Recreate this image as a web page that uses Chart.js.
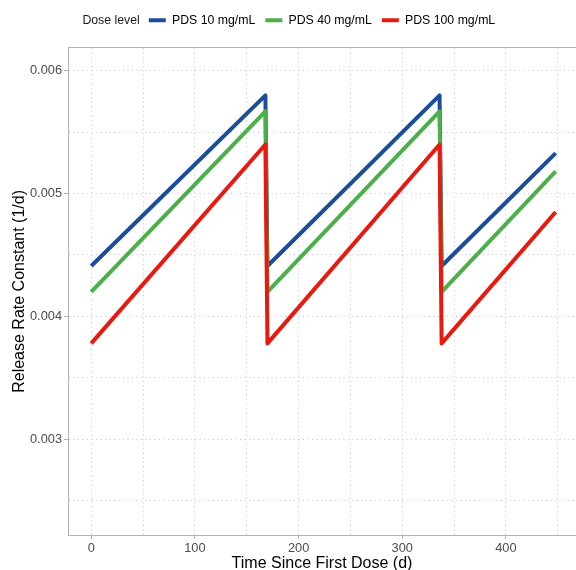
<!DOCTYPE html>
<html>
<head>
<meta charset="utf-8">
<script src="https://cdn.jsdelivr.net/npm/chart.js@4/dist/chart.umd.min.js"></script>
<style>
  html, body { margin: 0; padding: 0; background: #fff; }
  #wrap { width: 576px; height: 570px; }
</style>
</head>
<body>
<div id="wrap"><canvas id="chart" width="576" height="570"></canvas></div>
<script>
// release rate constant over three dosing intervals
const timeDays = [0, 168, 170, 336, 338, 448];
const pds10 = [0.00441, 0.00580, 0.00441, 0.00580, 0.00441, 0.00533];
const pds40 = [0.00420, 0.00567, 0.00420, 0.00567, 0.00420, 0.00518];
const pds100 = [0.00378, 0.00540, 0.00378, 0.00540, 0.00378, 0.00485];

const doseLabels = ['PDS 10 mg/mL', 'PDS 40 mg/mL', 'PDS 100 mg/mL'];
const doseColors = ['#1b4d9b', '#4cb04a', '#e8190f'];
const legendTitle = 'Dose level';

const xTicks = [0, 50, 100, 150, 200, 250, 300, 350, 400, 450];
const yTicks = [0.0025, 0.003, 0.0035, 0.004, 0.0045, 0.005, 0.0055, 0.006];
const xMajor = [0, 100, 200, 300, 400];
const yMajor = [0.003, 0.004, 0.005, 0.006];

const FONT = '"Liberation Sans", Arial, Helvetica, sans-serif';
const GRID = '#c6c6c6';
const FRAME = '#b3b3b3';

function toPoints(values) {
  return timeDays.map((t, i) => ({ x: t, y: values[i] }));
}

function isMajor(list, v) {
  return list.some(m => Math.abs(m - v) < 1e-9);
}

// ggplot-style legend title sits inline, left of the keys
const legendTitlePlugin = {
  id: 'legendTitle',
  afterDraw(chart) {
    const boxes = chart.legend && chart.legend.legendHitBoxes;
    if (!boxes || !boxes.length) return;
    const first = boxes[0];
    const ctx = chart.ctx;
    ctx.save();
    ctx.font = '12.3px ' + FONT;
    ctx.fillStyle = '#1a1a1a';
    ctx.textAlign = 'right';
    ctx.textBaseline = 'middle';
    ctx.fillText(legendTitle, first.left - 9, first.top + first.height / 2);
    ctx.restore();
  }
};

const series = [pds10, pds40, pds100];

new Chart(document.getElementById('chart'), {
  type: 'line',
  data: {
    datasets: series.map((vals, i) => ({
      label: doseLabels[i],
      data: toPoints(vals),
      borderColor: doseColors[i],
      backgroundColor: doseColors[i],
      borderWidth: 4,
      borderJoinStyle: 'round',
      pointRadius: 0,
      tension: 0,
      order: series.length - i  // red ends up on top
    }))
  },
  options: {
    responsive: false,
    animation: false,
    events: [],
    layout: { padding: { top: 4, left: 0, right: 0, bottom: 0 } },
    plugins: {
      tooltip: { enabled: false },
      legend: {
        position: 'top',
        fullSize: false,
        labels: {
          boxWidth: 17,
          boxHeight: 4,
          padding: 10,
          color: '#1a1a1a',
          font: { family: FONT, size: 12.3 },
          sort: (a, b) => a.datasetIndex - b.datasetIndex,
          generateLabels(chart) {
            return chart.data.datasets.map((ds, i) => ({
              text: ds.label,
              fillStyle: ds.borderColor,
              strokeStyle: ds.borderColor,
              lineWidth: 0,
              datasetIndex: i
            }));
          }
        }
      }
    },
    scales: {
      x: {
        type: 'linear',
        min: -22.4,
        max: 467.6,
        afterBuildTicks(scale) { scale.ticks = xTicks.map(v => ({ value: v })); },
        afterFit(scale) { scale.height = 35; },
        ticks: {
          autoSkip: false,
          maxRotation: 0,
          padding: 2,
          color: '#4d4d4d',
          font: { family: FONT, size: 12.8 },
          callback: v => isMajor(xMajor, v) ? String(v) : ''
        },
        grid: {
          color: GRID,
          lineWidth: 1,
          tickLength: 4,
          tickColor: ctx => ctx.tick && isMajor(xMajor, ctx.tick.value) ? FRAME : 'rgba(0,0,0,0)'
        },
        border: { display: true, color: FRAME, width: 1, dash: [1, 3.5] },
        title: {
          display: true,
          text: 'Time Since First Dose (d)',
          color: '#000',
          font: { family: FONT, size: 16, lineHeight: 0.8 },
          padding: { top: 0, bottom: 0 }
        }
      },
      // empty top axis: spacing under the legend plus the panel's top edge
      xTop: {
        type: 'linear',
        position: 'top',
        min: -22.4,
        max: 467.6,
        afterFit(scale) { scale.height = 11.5; },
        ticks: { display: false },
        grid: { display: false, drawOnChartArea: false, drawTicks: false },
        border: { display: true, color: FRAME, width: 1 }
      },
      y: {
        type: 'linear',
        min: 0.00222,
        max: 0.006187,
        afterBuildTicks(scale) { scale.ticks = yTicks.map(v => ({ value: v })); },
        afterFit(scale) { scale.width = 68; },
        ticks: {
          autoSkip: false,
          padding: 2,
          color: '#4d4d4d',
          font: { family: FONT, size: 12.8 },
          callback: v => isMajor(yMajor, v) ? v.toFixed(3) : ''
        },
        grid: {
          color: GRID,
          lineWidth: 1,
          tickLength: 4,
          tickColor: ctx => ctx.tick && isMajor(yMajor, ctx.tick.value) ? FRAME : 'rgba(0,0,0,0)'
        },
        border: { display: true, color: FRAME, width: 1, dash: [1, 3.5] },
        title: {
          display: true,
          text: 'Release Rate Constant (1/d)',
          color: '#000',
          font: { family: FONT, size: 16 },
          padding: { top: 10, bottom: 0 }
        }
      }
    }
  },
  plugins: [legendTitlePlugin]
});
</script>
</body>
</html>
